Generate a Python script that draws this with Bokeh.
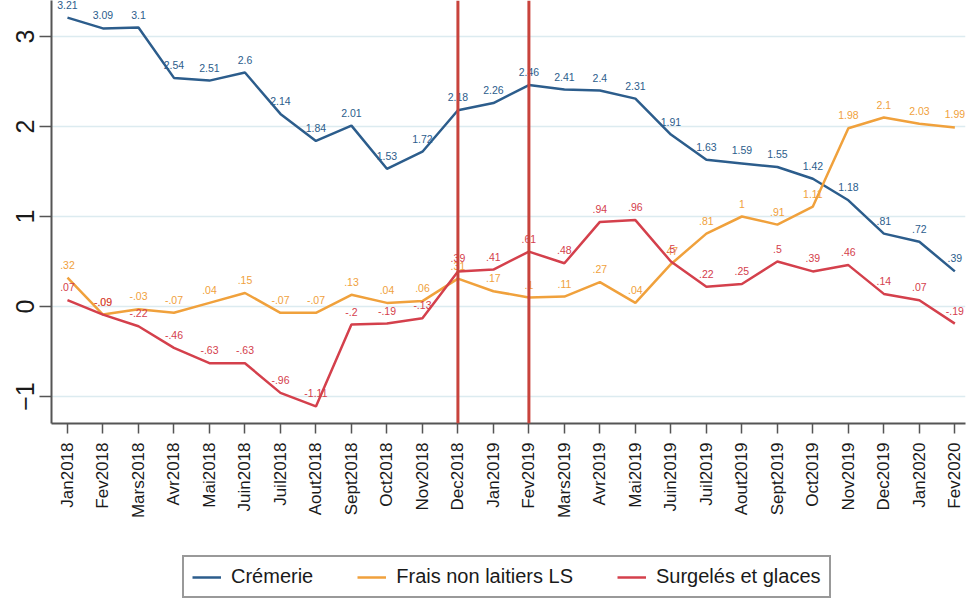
import math
from bokeh.plotting import figure
from bokeh.layouts import column
from bokeh.models import Range1d, Span, Legend, LegendItem, ColumnDataSource
from bokeh.embed import file_html
from bokeh.resources import INLINE
from bokeh.core.properties import value

months = ["Jan2018", "Fev2018", "Mars2018", "Avr2018", "Mai2018", "Juin2018",
          "Juil2018", "Aout2018", "Sept2018", "Oct2018", "Nov2018", "Dec2018",
          "Jan2019", "Fev2019", "Mars2019", "Avr2019", "Mai2019", "Juin2019",
          "Juil2019", "Aout2019", "Sept2019", "Oct2019", "Nov2019", "Dec2019",
          "Jan2020", "Fev2020"]

cremerie = [3.21, 3.09, 3.1, 2.54, 2.51, 2.6, 2.14, 1.84, 2.01, 1.53, 1.72, 2.18,
            2.26, 2.46, 2.41, 2.4, 2.31, 1.91, 1.63, 1.59, 1.55, 1.42, 1.18, 0.81,
            0.72, 0.39]
frais = [0.32, -0.09, -0.03, -0.07, 0.04, 0.15, -0.07, -0.07, 0.13, 0.04, 0.06, 0.31,
         0.17, 0.1, 0.11, 0.27, 0.04, 0.47, 0.81, 1.0, 0.91, 1.11, 1.98, 2.1,
         2.03, 1.99]
surgeles = [0.07, -0.09, -0.22, -0.46, -0.63, -0.63, -0.96, -1.11, -0.2, -0.19, -0.13, 0.39,
            0.41, 0.61, 0.48, 0.94, 0.96, 0.5, 0.22, 0.25, 0.5, 0.39, 0.46, 0.14,
            0.07, -0.19]

series_names = ["Crémerie", "Frais non laitiers LS", "Surgelés et glaces"]
series_colors = ["#2c5d8c", "#f0a13c", "#d4404c"]
event_months = ["Dec2018", "Fev2019"]
y_ticks = [-1, 0, 1, 2, 3]


def fmt(v):
    s = f"{v:.2f}".rstrip("0").rstrip(".")
    s = s.replace("-0.", "-.")
    if s.startswith("0."):
        s = s[1:]
    return s


FONT = "Liberation Sans"
xs = list(range(len(months)))

p = figure(width=968, height=523, output_backend="svg", toolbar_location=None,
           x_range=Range1d(-0.45, 25.3), y_range=Range1d(-1.3, 3.4),
           min_border_left=51, min_border_right=3, min_border_top=0,
           min_border_bottom=100)
p.outline_line_color = None
p.background_fill_color = "white"
p.border_fill_color = "white"

# grid
p.xgrid.visible = False
p.ygrid.grid_line_color = "#dcebf0"
p.ygrid.grid_line_width = 1.5
p.ygrid.ticker = y_ticks

# axes
p.yaxis.ticker = y_ticks
p.yaxis.major_label_orientation = "parallel"
p.yaxis.major_label_text_font_size = "25px"
p.yaxis.major_label_text_font = FONT
p.yaxis.major_label_text_color = "#1a1a1a"
p.yaxis.major_label_standoff = 6
p.yaxis.major_tick_out = 12

p.xaxis.ticker = xs
p.xaxis.major_label_overrides = {i: m for i, m in enumerate(months)}
p.xaxis.major_label_orientation = math.pi / 2
p.xaxis.major_label_text_font_size = "17px"
p.xaxis.major_label_text_font = FONT
p.xaxis.major_label_text_color = "#1a1a1a"
p.xaxis.major_label_standoff = 9
p.xaxis.major_tick_out = 10

for ax in (p.xaxis, p.yaxis):
    ax.axis_line_color = "#555555"
    ax.axis_line_width = 2
    ax.major_tick_line_color = "#555555"
    ax.major_tick_line_width = 1.5
    ax.major_tick_in = 0
    ax.minor_tick_line_color = None

# event lines
for m in event_months:
    p.add_layout(Span(location=months.index(m), dimension="height",
                      line_color="#c8433c", line_width=3))

for name, vals, col in zip(series_names, [cremerie, frais, surgeles], series_colors):
    src = ColumnDataSource(dict(x=xs, y=vals, lab=[fmt(v) for v in vals]))
    p.line("x", "y", source=src, line_color=col, line_width=2.5)
    p.text("x", "y", text="lab", source=src, text_align="center",
           text_baseline="bottom", y_offset=-9, text_font_size="10.5px",
           text_font=value(FONT), text_color=col)

# legend figure
lf = figure(width=968, height=83, output_backend="svg", toolbar_location=None,
            x_range=Range1d(0, 1), y_range=Range1d(0, 1),
            min_border=0, outline_line_color=None)
lf.axis.visible = False
lf.grid.visible = False
items = []
for name, col in zip(series_names, series_colors):
    r = lf.line(x=[-10, -9], y=[-10, -10], line_color=col, line_width=2.5)
    items.append(LegendItem(label=name, renderers=[r]))

legend = Legend(items=items, orientation="horizontal", location=(131, 8),
                label_text_font=FONT, label_text_font_size="20px",
                label_text_color="#1a1a1a", glyph_width=29, glyph_height=22,
                label_standoff=10, spacing=44, padding=8, margin=0,
                border_line_color="#333333", border_line_width=2,
                background_fill_color="white", background_fill_alpha=1)
lf.add_layout(legend, "center")

layout = column(p, lf, spacing=0)
open("out.html", "w").write(file_html(layout, INLINE))
